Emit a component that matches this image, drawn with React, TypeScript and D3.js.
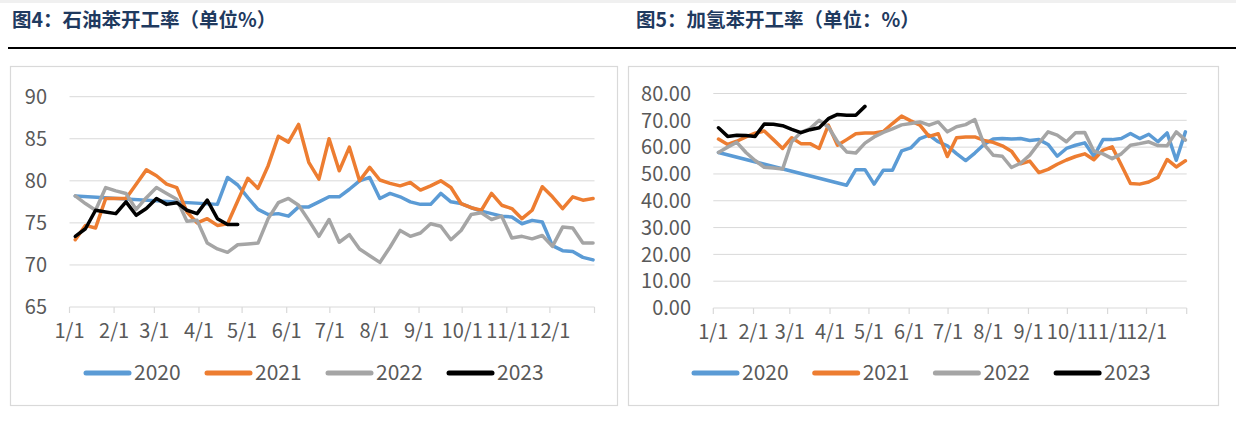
import React from 'react';
import * as d3 from 'd3';

// weekly operating rates, one value per week (null = no data that week)
const left2020 = [78.2, null, null, null, null, null, null, null, null, null, null, null, null, null,
  77.2, 80.4, 79.5, 78.0, 76.6, 76.0, 76.1, 75.8, 76.9, 76.9, 77.5, 78.1, 78.1, 79.0, 80.0, 80.4,
  77.9, 78.5, 78.1, 77.5, 77.2, 77.2, 78.5, 77.5, 77.3, 76.8, 76.4, 76.1, 75.8, 75.7, 74.9, 75.3,
  75.1, 72.3, 71.7, 71.6, 70.9, 70.6];
const left2021 = [73.0, 74.7, 74.4, 77.9, 77.9, 77.9, 79.6, 81.3, 80.6, 79.6, 79.2, 76.3, 75.0, 75.5,
  74.7, 74.9, 77.6, 80.3, 79.1, 81.8, 85.3, 84.6, 86.7, 82.2, 80.2, 85.0, 81.2, 84.0, 80.0, 81.6,
  80.1, 79.7, 79.4, 79.8, 78.9, 79.4, 80.0, 79.2, 77.3, 76.8, 76.5, 78.5, 77.1, 76.7, 75.5, 76.5,
  79.3, 78.1, 76.7, 78.1, 77.7, 77.9];
const left2022 = [78.2, 77.3, 76.5, 79.2, 78.8, 78.5, 76.6, 78.0, 79.2, 78.5, 77.8, 75.2, 75.3, 72.6,
  71.9, 71.5, 72.4, 72.5, 72.6, 75.5, 77.4, 77.9, 77.1, 75.3, 73.4, 75.4, 72.7, 73.6, 71.9, 71.1,
  70.3, 72.1, 74.1, 73.4, 73.8, 74.9, 74.6, 73.0, 74.1, 76.0, 76.2, 75.4, 75.8, 73.2, 73.4, 73.1,
  73.5, 72.2, 74.5, 74.4, 72.6, 72.6];
const left2023 = [73.4, 74.3, 76.5, 76.3, 76.1, 77.5, 75.9, 76.7, 77.9, 77.2, 77.4, 76.5, 76.1, 77.7,
  75.5, 74.8, 74.8];

const right2020 = [58.0, null, null, null, null, null, null, null, null, null, null, null, null, null,
  45.8, 51.6, 51.6, 46.2, 51.4, 51.4, 58.6, 59.7, 63.2, 64.5, 62.0, 60.5, 57.6, 55.0, 57.8, 61.0,
  63.0, 63.2, 63.0, 63.2, 62.5, 62.8, 61.0, 56.6, 59.5, 60.7, 61.6, 56.6, 62.8, 62.8, 63.2, 65.1,
  63.2, 64.8, 62.0, 65.3, 55.1, 65.7];
const right2021 = [63.0, 61.0, 62.2, 63.8, 65.2, 66.0, 62.8, 59.5, 63.5, 61.3, 61.3, 59.5, 68.2, 60.7,
  62.8, 65.0, 65.3, 65.3, 65.8, 68.8, 71.6, 69.8, 68.2, 64.0, 65.0, 56.5, 63.5, 63.8, 63.8, 62.5,
  61.8, 60.5, 58.5, 53.8, 54.8, 50.5, 51.7, 53.6, 55.2, 56.5, 57.5, 55.3, 58.9, 60.1, 53.3, 46.4,
  46.2, 47.0, 48.7, 55.4, 52.6, 54.9];
const right2022 = [58.0, 60.0, 61.8, 58.0, 55.0, 52.5, 52.2, 51.8, 62.0, 65.5, 66.9, 70.0, 67.5, 62.0,
  58.2, 57.8, 61.5, 63.8, 65.5, 66.8, 68.3, 68.8, 69.4, 68.2, 69.4, 65.7, 67.6, 68.4, 70.3, 61.0,
  57.0, 56.6, 52.4, 54.0, 57.0, 61.5, 65.7, 64.5, 62.0, 65.4, 65.5, 58.5, 57.5, 55.7, 57.5, 60.7,
  61.3, 62.0, 60.6, 60.5, 65.7, 62.6];
const right2023 = [67.2, 64.0, 64.4, 64.3, 64.0, 68.6, 68.5, 68.0, 66.6, 65.4, 66.5, 67.2, 70.6, 72.2,
  71.9, 71.9, 75.2];

const years = ['2020', '2021', '2022', '2023'];
const colors = ['#5B9BD5', '#ED7D31', '#A5A5A5', '#000000'];

const leftTicks = [65, 70, 75, 80, 85, 90];
const rightTicks = [0, 10, 20, 30, 40, 50, 60, 70, 80];

const FONT = '"Noto Sans CJK SC", "Noto Sans", sans-serif';
const TEXT = '#595959';
const GRID = '#D9D9D9';

// calendar axis (day of year), labels at month starts
const yearStart = new Date(2021, 0, 1);
const monthStarts = d3.timeMonth.range(yearStart, new Date(2022, 0, 1));
const monthDays = monthStarts.map((d) => d3.timeDay.count(yearStart, d));
const fmtMonth = d3.timeFormat('%-m/%-d');
const weekDay = d3.scaleLinear().domain([0, 51]).range([4, 364]);

interface PanelProps {
  box: [number, number, number, number];
  xRange: [number, number];
  yRange: [number, number];
  yTicks: number[];
  yFmt: (v: number) => string;
  labelX: number;
  series: (number | null)[][];
  legendX: number;
  legendStep: number;
}

function Panel({ box, xRange, yRange, yTicks, yFmt, labelX, series, legendX, legendStep }: PanelProps) {
  const x = d3.scaleLinear().domain([0, 365]).range(xRange);
  const y = d3.scaleLinear().domain(d3.extent(yTicks) as [number, number]).range(yRange);
  const line = d3.line<[number, number]>()
    .x((d) => x(weekDay(d[0])))
    .y((d) => y(d[1]));
  const tickDays = [...monthDays, 365];

  return (
    <g>
      <rect x={box[0] + 0.5} y={box[1] + 0.5} width={box[2]} height={box[3]} fill="#fff" stroke={GRID} strokeWidth={1.2} />
      {yTicks.slice(1).map((t) => (
        <line key={t} x1={xRange[0]} x2={xRange[1]} y1={y(t)} y2={y(t)} stroke={GRID} strokeWidth={1} />
      ))}
      <line x1={xRange[0]} x2={xRange[1]} y1={yRange[0]} y2={yRange[0]} stroke={GRID} strokeWidth={1.2} />
      {tickDays.map((d) => (
        <line key={d} x1={x(d)} x2={x(d)} y1={yRange[0]} y2={yRange[0] + 6} stroke={GRID} strokeWidth={1.2} />
      ))}
      {yTicks.map((t) => (
        <text key={t} x={labelX} y={y(t)} dy="0.36em" textAnchor="end" fontSize={20} fill={TEXT} fontFamily={FONT}>
          {yFmt(t)}
        </text>
      ))}
      {monthStarts.map((m, i) => (
        <text key={i} x={x(monthDays[i])} y={yRange[0] + 30.5} textAnchor="middle" fontSize={20} fill={TEXT} fontFamily={FONT}>
          {fmtMonth(m)}
        </text>
      ))}
      {series.map((vals, si) => {
        const pts = vals
          .map((v, i) => [i, v] as [number, number | null])
          .filter((p) => p[1] != null) as [number, number][];
        return (
          <path key={si} d={line(pts) || ''} fill="none" stroke={colors[si]} strokeWidth={3.5}
            strokeLinejoin="round" strokeLinecap="round" />
        );
      })}
      {years.map((yr, i) => {
        const lx = legendX + i * legendStep;
        return (
          <g key={yr}>
            <line x1={lx + 2} x2={lx + 45} y1={373} y2={373} stroke={colors[i]} strokeWidth={5} strokeLinecap="round" />
            <text x={lx + 50} y={380} fontSize={21} fill={TEXT} fontFamily={FONT}>{yr}</text>
          </g>
        );
      })}
    </g>
  );
}

export default function App() {
  return (
    <svg width={1236} height={423} style={{ position: 'absolute', left: 0, top: 0, background: '#fff' }}>
      <rect x={0} y={0} width={1236} height={3} fill="#F0F0F0" />
      <text x={12} y={27} fontSize={19.5} fontWeight={700} fill="#1F3A5F" fontFamily={FONT}>
        图4：石油苯开工率（单位%）
      </text>
      <text x={636} y={27} fontSize={19.5} fontWeight={700} fill="#1F3A5F" fontFamily={FONT}>
        图5：加氢苯开工率（单位：%）
      </text>
      <line x1={8} x2={1236} y1={48} y2={48} stroke="#000" strokeWidth={2.2} />
      <Panel
        box={[10, 66, 607, 339]}
        xRange={[69.5, 594.5]}
        yRange={[307, 96.7]}
        yTicks={leftTicks}
        yFmt={(v) => String(v)}
        labelX={47}
        series={[left2020, left2021, left2022, left2023]}
        legendX={84}
        legendStep={121}
      />
      <Panel
        box={[628, 66, 590, 339]}
        xRange={[713.3, 1186.7]}
        yRange={[308, 93.5]}
        yTicks={rightTicks}
        yFmt={(v) => d3.format('.2f')(v)}
        labelX={691}
        series={[right2020, right2021, right2022, right2023]}
        legendX={692}
        legendStep={120.7}
      />
    </svg>
  );
}
